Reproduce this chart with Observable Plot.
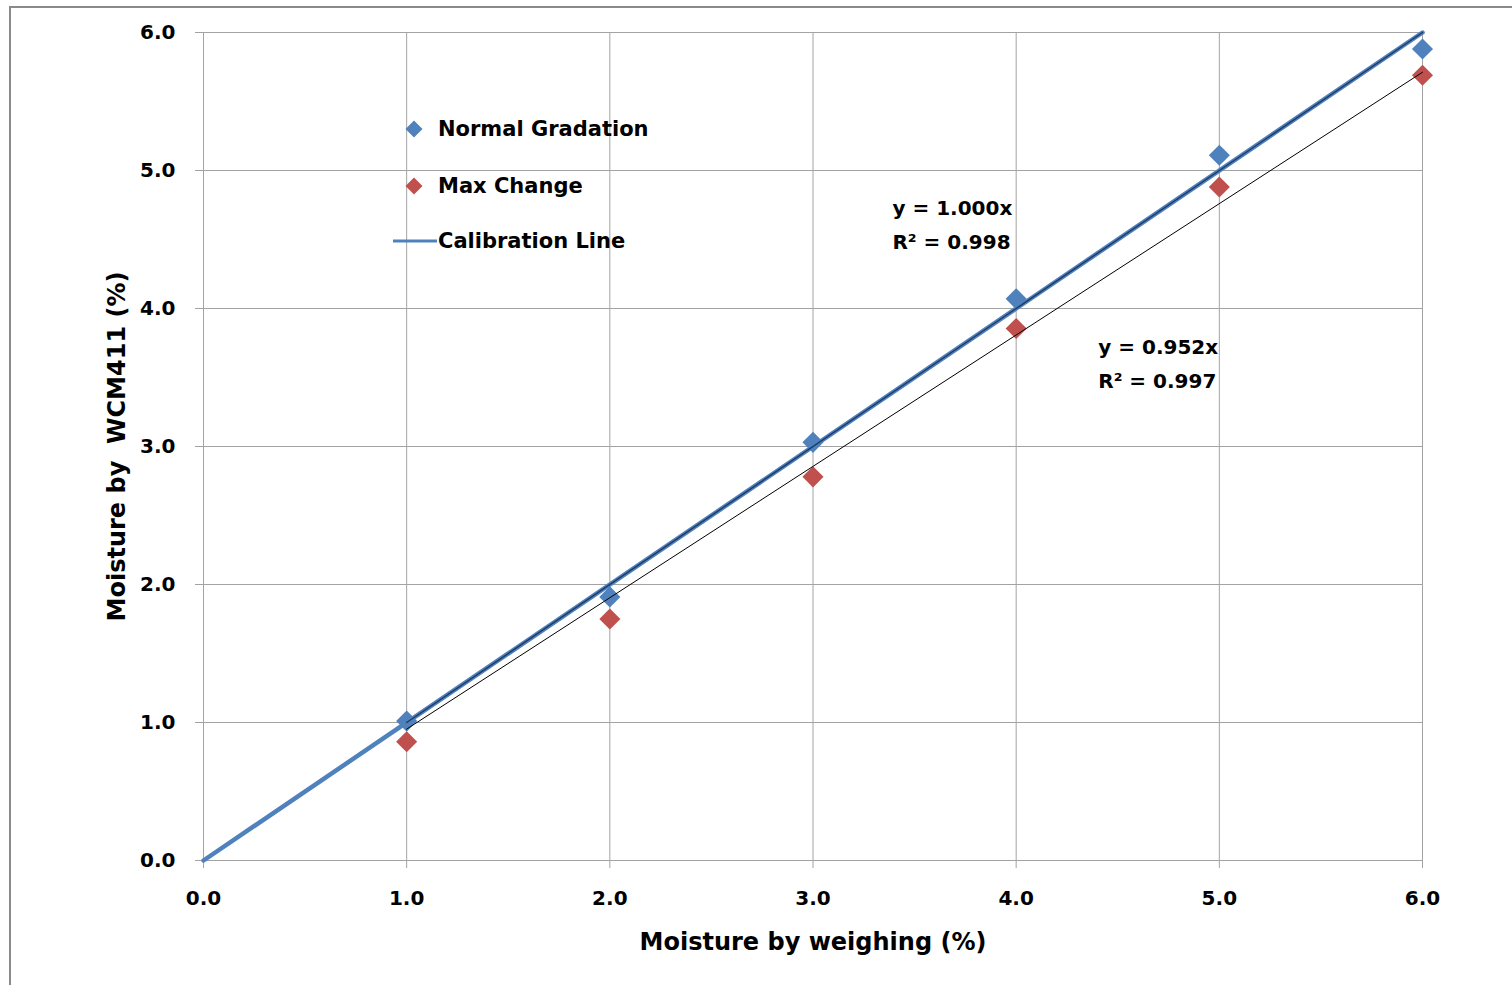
<!DOCTYPE html>
<html>
<head>
<meta charset="utf-8">
<script src="https://cdn.jsdelivr.net/npm/d3@7"></script>
<script src="https://cdn.jsdelivr.net/npm/@observablehq/plot@0.6"></script>
<style>
  html, body { margin: 0; padding: 0; background: #fff; overflow: hidden; }
  #wrap { position: relative; width: 1512px; height: 985px; }
  #wrap svg text { white-space: pre; }
  #frame { position: absolute; left: 9px; top: 6px; width: 2000px; height: 2000px;
           border-left: 2px solid #8a8a8a; border-top: 2px solid #8a8a8a; pointer-events: none; }
  .leg { position: absolute; display: flex; align-items: center; height: 30px;
         font-family: "DejaVu Sans"; font-weight: bold; font-size: 21px; color: #000; }
  .leg svg { display: block; }
</style>
</head>
<body>
<div id="wrap"></div>
<script>
// ---- data ----
const xValues = [1, 2, 3, 4, 5, 6];
const normalGradation = [1.01, 1.91, 3.03, 4.07, 5.11, 5.88];
const maxChange = [0.86, 1.75, 2.78, 3.855, 4.88, 5.69];
const calibrationX = [0, 6];
const calibrationY = [0, 6];
const trendSlopes = [1.000, 0.952];
const trendXRange = [1, 6];
const trendColors = ["#1f3a64", "#000000"];
const eqLabels = ["y = 1.000x\nR² = 0.998", "y = 0.952x\nR² = 0.997"];
const eqX = [3.391, 4.404];
const eqY = [4.636, 3.627];
const xTicks = [0, 1, 2, 3, 4, 5, 6];
const yTicks = [0, 1, 2, 3, 4, 5, 6];
const seriesNames = ["Normal Gradation", "Max Change", "Calibration Line"];
const seriesColors = ["#4f81bd", "#c0504d", "#4f81bd"];
const xTitle = "Moisture by weighing (%)";
const yTitle = "Moisture by  WCM411 (%)";

// ---- tables ----
const normalData = xValues.map((x, i) => ({x, y: normalGradation[i]}));
const maxData = xValues.map((x, i) => ({x, y: maxChange[i]}));
const calibData = calibrationX.map((x, i) => ({x, y: calibrationY[i]}));
const trendData = trendSlopes.map((s, k) => trendXRange.map(x => ({x, y: s * x, k})));
const eqData = eqLabels.map((t, i) => ({t, x: eqX[i], y: eqY[i]}));

const fmt = d => d.toFixed(1);
const gridColor = "#a3a3a3";

const chart = Plot.plot({
  width: 1512,
  height: 985,
  marginLeft: 203,
  marginRight: 90,
  marginTop: 32,
  marginBottom: 125,
  x: {domain: [0, 6]},
  y: {domain: [0, 6]},
  style: {fontFamily: "DejaVu Sans", fontWeight: "bold", fontSize: "20px", background: "transparent", overflow: "visible", color: "#000"},
  marks: [
    Plot.gridX(xTicks, {stroke: gridColor, strokeOpacity: 1, strokeWidth: 1}),
    Plot.gridY(yTicks, {stroke: gridColor, strokeOpacity: 1, strokeWidth: 1}),
    Plot.axisX(xTicks, {tickSize: 8, tickPadding: 22, tickFormat: fmt, stroke: gridColor, fill: "#000", label: null, fontSize: 20}),
    Plot.axisY(yTicks, {tickSize: 8, tickPadding: 20, tickFormat: fmt, stroke: gridColor, fill: "#000", label: null, fontSize: 20}),
    Plot.line(calibData, {x: "x", y: "y", stroke: seriesColors[2], strokeWidth: 4.5}),
    Plot.dot(normalData, {x: "x", y: "y", symbol: "diamond2", r: 9.5, fill: seriesColors[0], stroke: "none"}),
    Plot.dot(maxData, {x: "x", y: "y", symbol: "diamond2", r: 9.5, fill: seriesColors[1], stroke: "none"}),
    Plot.line(trendData[0], {x: "x", y: "y", stroke: trendColors[0], strokeWidth: 1.4}),
    Plot.line(trendData[1], {x: "x", y: "y", stroke: trendColors[1], strokeWidth: 1}),
    Plot.text(eqData, {x: "x", y: "y", text: "t", textAnchor: "start", lineAnchor: "middle", lineHeight: 1.7, fontSize: 20, fill: "#000"}),
    Plot.text([xTitle], {text: d => d, frameAnchor: "bottom", dy: 82, textAnchor: "middle", lineAnchor: "middle", fontSize: 24, fill: "#000"}),
    Plot.text([yTitle], {text: d => d, frameAnchor: "left", dx: -86, rotate: -90, textAnchor: "middle", lineAnchor: "middle", fontSize: 24, fill: "#000"})
  ]
});

const wrap = document.getElementById("wrap");
wrap.appendChild(chart);

// ---- legend (HTML overlay) ----
const legendRows = [
  {name: seriesNames[0], color: seriesColors[0], kind: "diamond", cy: 129},
  {name: seriesNames[1], color: seriesColors[1], kind: "diamond", cy: 186},
  {name: seriesNames[2], color: seriesColors[2], kind: "line", cy: 241}
];
legendRows.forEach(r => {
  const div = document.createElement("div");
  div.className = "leg";
  div.style.left = "392px";
  div.style.top = (r.cy - 15) + "px";
  const sw = r.kind === "diamond"
    ? `<svg width="46" height="30"><path d="M22,6.5L30.5,15L22,23.5L13.5,15Z" fill="${r.color}"/></svg>`
    : `<svg width="46" height="30"><line x1="1" y1="15" x2="45" y2="15" stroke="${r.color}" stroke-width="3"/></svg>`;
  div.innerHTML = sw + `<span>${r.name}</span>`;
  wrap.appendChild(div);
});

const frame = document.createElement("div");
frame.id = "frame";
wrap.appendChild(frame);
</script>
</body>
</html>
